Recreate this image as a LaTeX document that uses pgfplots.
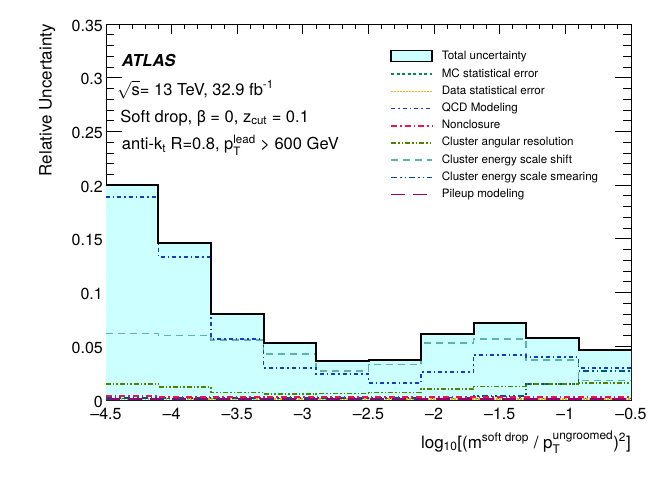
\documentclass[border=0pt]{standalone}
\usepackage{amsmath}
\usepackage{fontspec}
\setmainfont{TeX Gyre Heros}
\usepackage{pgfplots}
\usepackage{pgfplotstable}
\pgfplotsset{compat=1.18}
\definecolor{totfill}{RGB}{204,255,255}
\definecolor{cmc}{RGB}{0,140,80}
\definecolor{cdat}{RGB}{255,170,20}
\definecolor{cqcd}{RGB}{20,60,200}
\definecolor{cnon}{RGB}{235,20,80}
\definecolor{cang}{RGB}{80,130,0}
\definecolor{cshf}{RGB}{90,180,170}
\definecolor{csmr}{RGB}{0,80,140}
\definecolor{cpil}{RGB}{160,0,110}
\pgfplotstableread{
x     tot    mc     dat    qcd    non    ang    shf    smr    pil
-4.5  0.200  0.0015 0.0010 0.189  0.0035 0.015  0.062  0.0020 0.0008
-4.1  0.146  0.0015 0.0010 0.133  0.0030 0.012  0.060  0.0020 0.0008
-3.7  0.080  0.0015 0.0010 0.057  0.0030 0.007  0.056  0.0020 0.0008
-3.3  0.053  0.0015 0.0010 0.030  0.0030 0.0055 0.043  0.0020 0.0008
-2.9  0.036  0.0015 0.0010 0.024  0.0030 0.006  0.027  0.0020 0.0008
-2.5  0.037  0.0015 0.0010 0.016  0.0030 0.007  0.033  0.0020 0.0008
-2.1  0.061  0.0015 0.0010 0.026  0.0030 0.010  0.053  0.0025 0.0008
-1.7  0.072  0.0015 0.0010 0.042  0.0030 0.0125 0.057  0.0040 0.0008
-1.3  0.058  0.0015 0.0010 0.040  0.0030 0.015  0.0375 0.015  0.0008
-0.9  0.047  0.0015 0.0010 0.030  0.0030 0.016  0.018  0.027  0.0008
-0.5  0.047  0.0015 0.0010 0.030  0.0030 0.016  0.018  0.027  0.0008
}\data
\begin{document}
\begin{tikzpicture}
\useasboundingbox (-106pt,-77pt) rectangle (558pt,400pt);
\begin{axis}[
  at={(0pt,0pt)}, anchor=south west,
  scale only axis, width=525pt, height=376pt,
  xmin=-4.5, xmax=-0.5, ymin=0, ymax=0.35,
  axis line style={black, line width=0.9pt},
  tick align=inside, tick pos=both,
  xticklabel pos=lower, yticklabel pos=left,
  xtick={-4.5,-4,-3.5,-3,-2.5,-2,-1.5,-1,-0.5},
  xticklabels={–4.5,–4,–3.5,–3,–2.5,–2,–1.5,–1,–0.5},
  ytick={0,0.05,0.1,0.15,0.2,0.25,0.3,0.35},
  yticklabels={0,0.05,0.1,0.15,0.2,0.25,0.3,0.35},
  minor x tick num=4, minor y tick num=4,
  major tick length=13pt, minor tick length=6.5pt,
  tick style={black, line width=0.8pt},
  xtick style={/pgfplots/major tick length=10pt,/pgfplots/minor tick length=5pt},
  ytick style={/pgfplots/major tick length=16pt,/pgfplots/minor tick length=8pt},
  xticklabel style={font=\fontsize{16}{18}\selectfont, inner sep=0pt, yshift=-8pt},
  yticklabel style={font=\fontsize{16}{18}\selectfont, inner sep=0pt, xshift=-3pt, yshift=-1.5pt},
  xlabel={log\textsubscript{10}[(m$^{\textrm{soft drop}}$ / p$_{\textrm{T}}^{\textrm{ungroomed}}$)$^{\textrm{2}}$]},
  xlabel style={at={(rel axis cs:1,-0.128)}, anchor=base east, inner sep=0pt, font=\fontsize{17}{20}\selectfont},
  ylabel={Relative Uncertainty},
  ylabel style={at={(rel axis cs:-0.112,1)}, anchor=east, inner sep=0pt, font=\fontsize{17}{20}\selectfont},
  legend image code/.code={\draw[#1] (0pt,0pt) -- (41pt,0pt);},
  legend style={draw=none, fill=none, at={(rel axis cs:0.541,0.931)}, anchor=north west,
    font=\fontsize{11.6}{12}\selectfont, inner sep=0pt, row sep=6.2pt,
    nodes={inner sep=0pt, text height=8.5pt, text depth=2.5pt},
    /tikz/every odd column/.append style={column sep=9pt}},
  legend cell align=left,
]
\addlegendimage{legend image code/.code={\draw[fill=totfill, draw=black, line width=1.3pt] (0pt,-5pt) rectangle (41pt,6pt);}}
\addlegendentry{Total uncertainty}
\addlegendimage{cmc, line width=1.6pt, dash pattern=on 3pt off 2.5pt}
\addlegendentry{MC statistical error}
\addlegendimage{cdat, line width=1.6pt, dash pattern=on 1.5pt off 1.5pt}
\addlegendentry{Data statistical error}
\addlegendimage{cqcd, line width=1.6pt, dash pattern=on 4pt off 3pt on 1.5pt off 3pt}
\addlegendentry{QCD Modeling}
\addlegendimage{cnon, line width=1.6pt, dash pattern=on 6pt off 3pt on 1.5pt off 3pt}
\addlegendentry{Nonclosure}
\addlegendimage{cang, line width=1.6pt, dash pattern=on 5pt off 2pt on 1.5pt off 2pt on 1.5pt off 2pt}
\addlegendentry{Cluster angular resolution}
\addlegendimage{cshf, line width=1.6pt, dash pattern=on 7pt off 5pt}
\addlegendentry{Cluster energy scale shift}
\addlegendimage{csmr, line width=1.6pt, dash pattern=on 6pt off 3pt on 1.5pt off 3pt on 1.5pt off 3pt}
\addlegendentry{Cluster energy scale smearing}
\addlegendimage{cpil, line width=1.6pt, dash pattern=on 14pt off 8pt}
\addlegendentry{Pileup modeling}

\addplot[fill=totfill, draw=none, const plot, forget plot] table[x=x,y=tot]{\data} \closedcycle;
\addplot[cmc, line width=1.6pt, dash pattern=on 3pt off 2.5pt, const plot, forget plot] table[x=x,y=mc]{\data};
\addplot[cdat, line width=1.6pt, dash pattern=on 1.5pt off 1.5pt, const plot, forget plot] table[x=x,y=dat]{\data};
\addplot[cpil, line width=1.6pt, dash pattern=on 14pt off 8pt, const plot, forget plot] table[x=x,y=pil]{\data};
\addplot[csmr, line width=1.6pt, dash pattern=on 6pt off 3pt on 1.5pt off 3pt on 1.5pt off 3pt, const plot, forget plot] table[x=x,y=smr]{\data};
\addplot[cnon, line width=1.6pt, dash pattern=on 6pt off 3pt on 1.5pt off 3pt, const plot, forget plot] table[x=x,y=non]{\data};
\addplot[cang, line width=1.6pt, dash pattern=on 5pt off 2pt on 1.5pt off 2pt on 1.5pt off 2pt, const plot, forget plot] table[x=x,y=ang]{\data};
\addplot[cshf, line width=1.6pt, dash pattern=on 7pt off 5pt, const plot, forget plot] table[x=x,y=shf]{\data};
\addplot[cqcd, line width=1.6pt, dash pattern=on 4pt off 3pt on 1.5pt off 3pt, const plot, forget plot] table[x=x,y=qcd]{\data};
\addplot[black, line width=2pt, const plot, forget plot] table[x=x,y=tot]{\data};

\node[anchor=base west, inner sep=0pt, font=\fontsize{16.5}{18}\selectfont\bfseries\itshape] at (rel axis cs:0.030,0.888) {ATLAS};
\node[anchor=base west, inner sep=0pt, font=\fontsize{16.5}{18}\selectfont] at (rel axis cs:0.021,0.811) {$\sqrt{\textrm{s}}$= 13 TeV, 32.9 fb\textsuperscript{-1}};
\node[anchor=base west, inner sep=0pt, font=\fontsize{16.5}{18}\selectfont] at (rel axis cs:0.027,0.739) {Soft drop, β = 0, z\textsubscript{cut} = 0.1};
\node[anchor=base west, inner sep=0pt, font=\fontsize{16.5}{18}\selectfont] at (rel axis cs:0.030,0.665) {anti-k\textsubscript{t} R=0.8, $\textrm{p}_{\textrm{T}}^{\textrm{lead}}$ > 600 GeV};
\end{axis}
\end{tikzpicture}
\end{document}
